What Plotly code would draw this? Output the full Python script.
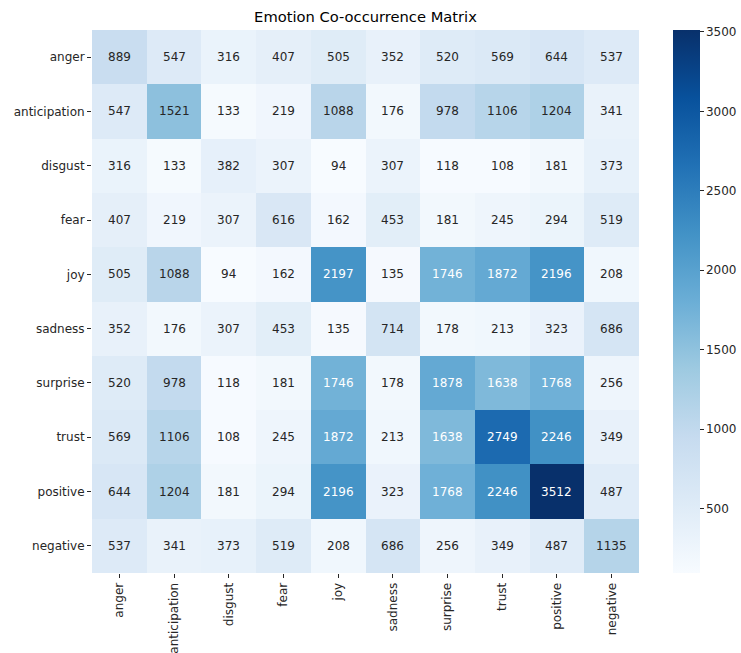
import plotly.graph_objects as go

emotions = ["anger", "anticipation", "disgust", "fear", "joy", "sadness",
            "surprise", "trust", "positive", "negative"]

row_anger = [889, 547, 316, 407, 505, 352, 520, 569, 644, 537]
row_anticipation = [547, 1521, 133, 219, 1088, 176, 978, 1106, 1204, 341]
row_disgust = [316, 133, 382, 307, 94, 307, 118, 108, 181, 373]
row_fear = [407, 219, 307, 616, 162, 453, 181, 245, 294, 519]
row_joy = [505, 1088, 94, 162, 2197, 135, 1746, 1872, 2196, 208]
row_sadness = [352, 176, 307, 453, 135, 714, 178, 213, 323, 686]
row_surprise = [520, 978, 118, 181, 1746, 178, 1878, 1638, 1768, 256]
row_trust = [569, 1106, 108, 245, 1872, 213, 1638, 2749, 2246, 349]
row_positive = [644, 1204, 181, 294, 2196, 323, 1768, 2246, 3512, 487]
row_negative = [537, 341, 373, 519, 208, 686, 256, 349, 487, 1135]

z = [row_anger, row_anticipation, row_disgust, row_fear, row_joy, row_sadness,
     row_surprise, row_trust, row_positive, row_negative]

colorbar_ticks = [500, 1000, 1500, 2000, 2500, 3000, 3500]

blues = ["#f7fbff", "#deebf7", "#c6dbef", "#9ecae1", "#6baed6",
         "#4292c6", "#2171b5", "#08519c", "#08306b"]
colorscale = [[i / (len(blues) - 1), c] for i, c in enumerate(blues)]

FONT = "DejaVu Sans, Verdana, sans-serif"
L, R, T, B = 92, 639, 30, 573
W, H = 741, 653

fig = go.Figure()
fig.add_trace(go.Heatmap(
    z=z, x=emotions, y=emotions,
    colorscale=colorscale,
    showscale=True,
    colorbar=dict(
        thickness=27, len=1, lenmode="fraction", y=0.5, yanchor="middle",
        x=(673 - L) / (R - L), xanchor="left", xpad=0, ypad=0,
        outlinewidth=0,
        tickvals=colorbar_ticks, ticktext=[str(v) for v in colorbar_ticks],
        ticks="outside", ticklen=4, tickcolor="#262626",
        tickfont=dict(family=FONT, size=12, color="#262626"),
    ),
    hoverinfo="skip",
))

zmin = min(min(r) for r in z)
zmax = max(max(r) for r in z)
annotations = []
for i, row in enumerate(z):
    for j, v in enumerate(row):
        frac = (v - zmin) / (zmax - zmin)
        col = "white" if frac > 0.44 else "#262626"
        annotations.append(dict(
            x=emotions[j], y=emotions[i], text=str(v), showarrow=False,
            font=dict(family=FONT, size=12, color=col),
        ))

fig.update_layout(
    width=W, height=H,
    margin=dict(l=L, r=W - R, t=T, b=H - B, autoexpand=False),
    paper_bgcolor="white", plot_bgcolor="white",
    title=dict(text="Emotion Co-occurrence Matrix", x=(L + R) / 2 / W,
               xanchor="center", y=1 - 17 / H, yanchor="middle",
               font=dict(family=FONT, size=14.7, color="#000000")),
    annotations=annotations,
    xaxis=dict(tickangle=-90, ticks="outside", ticklen=4, tickcolor="#262626",
               tickfont=dict(family=FONT, size=12, color="#262626"),
               showgrid=False, zeroline=False, showline=False, automargin=False),
    yaxis=dict(autorange="reversed", ticks="outside", ticklen=4, tickcolor="#262626",
               tickfont=dict(family=FONT, size=12, color="#262626"),
               showgrid=False, zeroline=False, showline=False, automargin=False),
)

fig.write_html("out.html")
